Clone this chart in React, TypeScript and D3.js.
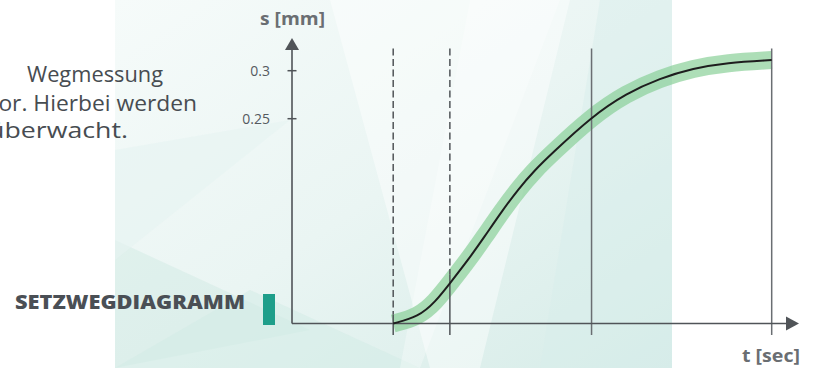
import React from 'react';
import * as d3 from 'd3';

// Data
const tValues = [20.0, 25.0, 28.3, 31.2, 34.8, 38.1, 41.4, 44.7, 48.0, 51.3, 59.2, 66.1, 72.7, 79.3, 85.9, 94.8];
const sValues = [0.0367, 0.0437, 0.059, 0.0785, 0.1028, 0.1275, 0.153, 0.1765, 0.1966, 0.2135, 0.2521, 0.2765, 0.2921, 0.3025, 0.3083, 0.3111];
const dashedMarkers = [20.0, 31.2];
const solidMarkers = [59.2, 94.8];
const yTicks = [0.25, 0.3];
const yTickLabels = ['0.25', '0.3'];
const paragraphLines = ['Wegmessung', 'vor. Hierbei werden', 'überwacht.'];
const title = 'SETZWEGDIAGRAMM';
const xLabel = 't [sec]';
const yLabel = 's [mm]';

const W = 819;
const H = 368;
const FONT = '"Open Sans", Lato, sans-serif';

const xScale = d3.scaleLinear().domain([0, 100]).range([292, 798]);
const yScale = d3.scaleLinear().domain([0.25, 0.3]).range([118.7, 70.7]);
const sAxis = 0.0367;
const sTop = 0.323;

const curveAt = (t: number) => {
  const i = d3.bisectLeft(tValues, t);
  if (i <= 0) return sValues[0];
  if (i >= tValues.length) return sValues[sValues.length - 1];
  const t0 = tValues[i - 1], t1 = tValues[i];
  const f = (t - t0) / (t1 - t0);
  return sValues[i - 1] + f * (sValues[i] - sValues[i - 1]);
};

export default function App() {
  const pts: [number, number][] = tValues.map((t, i) => [t, sValues[i]]);
  const line = d3
    .line<[number, number]>()
    .x((d) => xScale(d[0]))
    .y((d) => yScale(d[1]))
    .curve(d3.curveBasis);
  const path = line(pts) || '';

  const axisY = yScale(sAxis);
  const axisX = xScale(0);
  const topY = yScale(sTop);
  const axisColor = '#505458';

  return (
    <svg
      width={W}
      height={H}
      style={{ position: 'absolute', left: 0, top: 0, background: '#fff' }}
      fontFamily={FONT}
    >
      <defs>
        <linearGradient id="bg" x1="0" y1="0" x2="1" y2="1">
          <stop offset="0" stopColor="#f6fbfa" />
          <stop offset="0.5" stopColor="#eaf5f3" />
          <stop offset="1" stopColor="#d6ece8" />
        </linearGradient>
        <clipPath id="panel">
          <rect x={115} y={0} width={557} height={H} />
        </clipPath>
      </defs>
      <rect x={115} y={0} width={557} height={H} fill="url(#bg)" />
      <g clipPath="url(#panel)">
        <polygon points="330,0 570,0 480,368 430,368" fill="#ffffff" opacity={0.45} />
        <polygon points="115,240 310,330 115,368" fill="#cfe8e3" opacity={0.45} />
        <polygon points="115,368 250,290 420,368" fill="#d2ebe6" opacity={0.5} />
        <polygon points="115,150 290,120 115,260" fill="#e6f3f1" opacity={0.6} />
        <polygon points="600,0 672,0 672,368 540,368" fill="#d8eeea" opacity={0.45} />
        <polygon points="470,0 560,0 420,368 400,368" fill="#ffffff" opacity={0.3} />
      </g>

      {/* paragraph (left part cut off by the page edge, as in the reference) */}
      <g fontSize={21} fill="#474c51">
        <text x={163} y={82} textAnchor="end" textLength={136} lengthAdjust="spacingAndGlyphs">{paragraphLines[0]}</text>
        <text x={197} y={110.5} textAnchor="end" textLength={210} lengthAdjust="spacingAndGlyphs">{paragraphLines[1]}</text>
        <text x={128} y={137.5} textAnchor="end" textLength={140} lengthAdjust="spacingAndGlyphs">{paragraphLines[2]}</text>
      </g>

      {/* title */}
      <text x={15} y={309} fontSize={20} fontWeight={800} fill="#4a4f55" textLength={230} lengthAdjust="spacingAndGlyphs">
        {title}
      </text>
      <rect x={263} y={294} width={12} height={31} fill="#1e9e8a" />

      {/* band */}
      <path d={path} fill="none" stroke="#86cf95" strokeOpacity={0.68} strokeWidth={18} strokeLinecap="butt" />

      {/* marker lines */}
      {dashedMarkers.map((t, i) => {
        const x = xScale(t);
        const cy = yScale(curveAt(t)) - 9;
        return (
          <g key={'d' + i} stroke={axisColor} strokeWidth={1.5}>
            <line x1={x} x2={x} y1={topY} y2={cy} strokeDasharray="7,3.5" />
            <line x1={x} x2={x} y1={cy} y2={axisY + 11.5} />
          </g>
        );
      })}
      {solidMarkers.map((t, i) => {
        const x = xScale(t);
        return <line key={'s' + i} x1={x} x2={x} y1={topY} y2={axisY + 11.5} stroke="#6a6e72" strokeWidth={1.5} />;
      })}

      {/* axes */}
      <line x1={axisX} x2={axisX} y1={axisY} y2={50} stroke={axisColor} strokeWidth={1.6} />
      <polygon points={`${axisX - 7},50 ${axisX + 7},50 ${axisX},38`} fill={axisColor} />
      <line x1={axisX} x2={787} y1={axisY} y2={axisY} stroke={axisColor} strokeWidth={1.6} />
      <polygon points={`786,${axisY - 7} 786,${axisY + 7} 799,${axisY}`} fill={axisColor} />

      {yTicks.map((v, i) => (
        <g key={'yt' + i}>
          <line x1={axisX - 4.5} x2={axisX + 4.5} y1={yScale(v)} y2={yScale(v)} stroke={axisColor} strokeWidth={1.5} />
          <text x={270} y={yScale(v) + 5} fontSize={14} fill="#555a5f" textAnchor="end">
            {yTickLabels[i]}
          </text>
        </g>
      ))}

      <text x={260} y={25} fontSize={17} fontWeight={700} fill="#6a6e72" textLength={65} lengthAdjust="spacingAndGlyphs">
        {yLabel}
      </text>
      <text x={742} y={362} fontSize={17} fontWeight={700} fill="#6a6e72" textLength={58} lengthAdjust="spacingAndGlyphs">
        {xLabel}
      </text>

      {/* curve */}
      <path d={path} fill="none" stroke="#1e1e1e" strokeWidth={2} />
    </svg>
  );
}
